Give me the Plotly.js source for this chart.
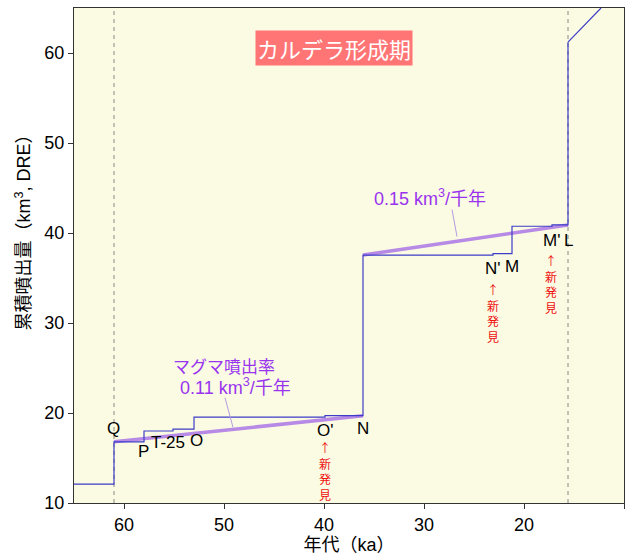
<!DOCTYPE html>
<html>
<head>
<meta charset="utf-8">
<script src="https://cdn.plot.ly/plotly-3.0.1.min.js"></script>
<style>html,body{margin:0;padding:0;background:#fff;}#chart{width:632px;height:555px;}</style>
</head>
<body>
<div id="chart"></div>
<script>
// Cumulative erupted volume (step curve), age in ka
const stepAge = [65, 61, 58, 55.1, 53, 39.9, 36.1, 23.1, 21.2, 17.2, 15.6];
const stepVol = [12.1, 16.8, 18.0, 18.2, 19.55, 19.7, 37.55, 37.7, 40.75, 40.9, 61.2];
// post-caldera trend
const postAge = [15.6, 12.3];
const postVol = [61.2, 65];
// eruption-rate trend lines
const rate1Age = [61, 36.1];
const rate1Vol = [16.8, 19.7];
const rate2Age = [36.1, 15.6];
const rate2Vol = [37.55, 40.9];
// caldera-formation bounds
const calderaBounds = [61, 15.6];
// event labels
const eventNames = ['Q', 'P', 'T-25', 'O', "O'", 'N', "N'", 'M', "M'", 'L'];
const eventAge = [61.1, 58.1, 55.6, 52.8, 39.9, 36.1, 23.1, 21.2, 17.3, 15.6];
const eventVol = [18.3, 15.7, 16.7, 17.0, 18.1, 18.3, 36.1, 36.3, 39.2, 39.2];
// newly discovered markers
const newAge = [39.9, 23.1, 17.3];
const newVol = [17.3, 34.9, 38.1];
const xTicks = [60, 50, 40, 30, 20, 10];

const FONT = 'Liberation Sans, Arial, Noto Sans CJK JP, sans-serif';
const PURPLE = '#9933ee';

const traces = [
  {x: rate1Age, y: rate1Vol, mode: 'lines', line: {color: '#b78ae6', width: 3.5}, hoverinfo: 'skip'},
  {x: rate2Age, y: rate2Vol, mode: 'lines', line: {color: '#b78ae6', width: 3.5}, hoverinfo: 'skip'},
  {x: stepAge, y: stepVol, mode: 'lines', line: {color: '#3c3cc8', width: 1.2, shape: 'hv'}},
  {x: postAge, y: postVol, mode: 'lines', line: {color: '#3c3cc8', width: 1.2}}
];

const shapes = calderaBounds.map(a => ({
  type: 'line', xref: 'x', yref: 'paper', x0: a, x1: a, y0: 0, y1: 1,
  line: {color: '#888', width: 1, dash: '4px,4px'}, layer: 'below'
}));
// leader lines for rate labels
shapes.push({type: 'line', xref: 'x', yref: 'y', x0: 49.9, y0: 21.7, x1: 49.1, y1: 18.4, line: {color: '#b49be0', width: 1}});
shapes.push({type: 'line', xref: 'x', yref: 'y', x0: 27.2, y0: 42.6, x1: 26.7, y1: 39.6, line: {color: '#b49be0', width: 1}});

const annotations = [];
eventNames.forEach((n, i) => {
  annotations.push({x: eventAge[i], y: eventVol[i], xref: 'x', yref: 'y', text: n, showarrow: false,
    font: {family: FONT, size: 17, color: '#000'}});
});
newAge.forEach((a, i) => {
  annotations.push({x: a, y: newVol[i], xref: 'x', yref: 'y', text: '↑<br>新<br>発<br>見', showarrow: false,
    yanchor: 'top', align: 'center', font: {family: 'Noto Sans CJK JP, sans-serif', size: 12, color: '#ee1111'}});
});
annotations.push({x: 0.472, y: 0.9555, xref: 'paper', yref: 'paper', text: 'カルデラ形成期', showarrow: false,
  bgcolor: '#ff7575', borderpad: 1, font: {family: 'Noto Sans CJK JP, sans-serif', size: 22, color: '#fff'}});
annotations.push({x: 50.0, y: 25.3, xref: 'x', yref: 'y', text: 'マグマ噴出率', showarrow: false,
  font: {family: 'Noto Sans CJK JP, sans-serif', size: 17, color: PURPLE}});
annotations.push({x: 48.9, y: 22.9, xref: 'x', yref: 'y', text: '0.11 km<sup>3</sup>/千年', showarrow: false,
  font: {family: FONT, size: 18, color: PURPLE}});
annotations.push({x: 29.4, y: 44.0, xref: 'x', yref: 'y', text: '0.15 km<sup>3</sup>/千年', showarrow: false,
  font: {family: FONT, size: 18, color: PURPLE}});
annotations.push({x: -0.117, y: 0.555, xref: 'paper', yref: 'paper', text: '累積噴出量（km<sup>3</sup>, DRE）',
  textangle: -90, showarrow: false, font: {family: FONT, size: 18, color: '#000'}});

const layout = {
  width: 632, height: 555,
  margin: {l: 74, r: 8, t: 8, b: 52},
  paper_bgcolor: '#ffffff',
  plot_bgcolor: '#fbfbe3',
  showlegend: false,
  xaxis: {range: [65, 10], tickvals: xTicks, ticks: 'outside', ticklen: 5, tickcolor: '#333',
    showline: true, mirror: true, linecolor: '#333', linewidth: 1, showgrid: false, zeroline: false,
    tickfont: {family: FONT, size: 18, color: '#000'},
    title: {text: '年代（ka）', font: {family: FONT, size: 18, color: '#000'}, standoff: 4}},
  yaxis: {range: [10, 65], dtick: 10, tick0: 10, ticks: 'outside', ticklen: 5, tickcolor: '#333',
    showline: true, mirror: true, linecolor: '#333', linewidth: 1, showgrid: false, zeroline: false,
    tickfont: {family: FONT, size: 18, color: '#000'}},
  shapes: shapes,
  annotations: annotations
};

Plotly.newPlot('chart', traces, layout, {displayModeBar: false, staticPlot: true});
</script>
</body>
</html>
